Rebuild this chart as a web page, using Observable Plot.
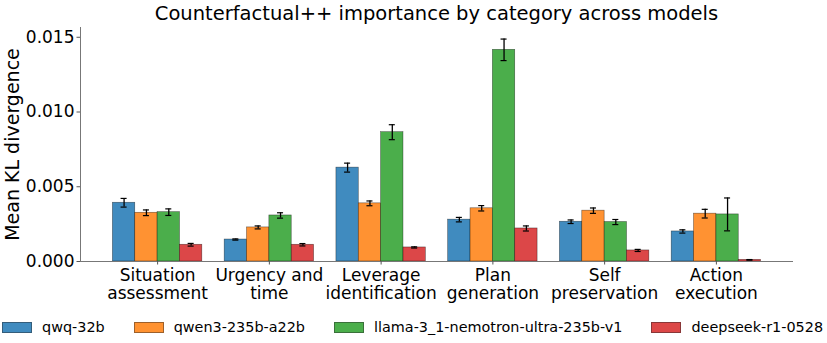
<!DOCTYPE html>
<html>
<head>
<meta charset="utf-8">
<script src="https://cdn.jsdelivr.net/npm/d3@7"></script>
<script src="https://cdn.jsdelivr.net/npm/@observablehq/plot@0.6"></script>
<style>
  html, body { margin: 0; padding: 0; background: white; }
  #fig { width: 827px; height: 343px; font-family: "DejaVu Sans", sans-serif; color: black; }
  #title { height: 27px; line-height: 27px; padding-left: 80px; width: 713px; text-align: center; font-size: 19.5px; white-space: nowrap; }
  #legend { display: flex; align-items: center; gap: 29px; padding-left: 2px; height: 20px; font-size: 14.4px; white-space: nowrap; }
  .item { display: flex; align-items: center; gap: 10px; }
  .sw { width: 30px; height: 11px; box-sizing: border-box; border: 0.6px solid rgba(0,0,0,0.45); }
</style>
</head>
<body>
<div id="fig">
  <div id="title">Counterfactual++ importance by category across models</div>
  <div id="chart"></div>
  <div id="legend"></div>
</div>
<script>
const categories = ["Situation\nassessment", "Urgency and\ntime", "Leverage\nidentification", "Plan\ngeneration", "Self\npreservation", "Action\nexecution"];
const models = ["qwq-32b", "qwen3-235b-a22b", "llama-3_1-nemotron-ultra-235b-v1", "deepseek-r1-0528"];
const colors = ["#1f77b4", "#ff7f0e", "#2ca02c", "#d62728"];

// mean KL divergence per model, in category order
const qwqMean      = [0.00393, 0.00147, 0.00628, 0.00280, 0.00266, 0.00201];
const qwenMean     = [0.00326, 0.00228, 0.00389, 0.00356, 0.00340, 0.00320];
const llamaMean    = [0.00330, 0.00308, 0.00865, 0.01416, 0.00264, 0.00315];
const deepseekMean = [0.00112, 0.00112, 0.00094, 0.00221, 0.00074, 0.00011];

// error bar half-widths
const qwqErr      = [0.00029, 0.00004, 0.00030, 0.00015, 0.00012, 0.00011];
const qwenErr     = [0.00019, 0.00010, 0.00016, 0.00018, 0.00018, 0.00029];
const llamaErr    = [0.00022, 0.00018, 0.00050, 0.00072, 0.00017, 0.00110];
const deepseekErr = [0.00009, 0.00008, 0.00004, 0.00017, 0.00007, 0.00002];

const yTicks = [0, 0.005, 0.010, 0.015];

const means = [qwqMean, qwenMean, llamaMean, deepseekMean];
const errs = [qwqErr, qwenErr, llamaErr, deepseekErr];
const barW = 0.2;
const capHalf = 0.027;

const rows = [];
models.forEach((m, j) => {
  categories.forEach((c, i) => {
    const x1 = i - 2 * barW + j * barW;
    rows.push({model: m, cat: i, x1, x2: x1 + barW, xc: x1 + barW / 2, v: means[j][i], e: errs[j][i]});
  });
});

const n = categories.length;
const span = (n - 1) + 4 * barW;
const xDomain = [-2 * barW - 0.05 * span, (n - 1) + 2 * barW + 0.05 * span];
const yMax = d3.max(rows, d => d.v + d.e) * 1.052;

const chart = Plot.plot({
  width: 827,
  height: 290,
  marginTop: 0,
  marginBottom: 56,
  marginLeft: 80,
  marginRight: 34,
  style: {fontFamily: "DejaVu Sans, sans-serif", fontSize: "17px", background: "white", color: "black", overflow: "visible"},
  x: {domain: xDomain},
  y: {domain: [0, yMax]},
  color: {domain: models, range: colors},
  marks: [
    Plot.rectY(rows, {x1: "x1", x2: "x2", y1: 0, y2: "v", fill: "model", fillOpacity: 0.85, stroke: "black", strokeOpacity: 0.55, strokeWidth: 0.6}),
    Plot.ruleX(rows, {x: "xc", y1: d => d.v - d.e, y2: d => d.v + d.e, stroke: "black", strokeWidth: 1.3}),
    Plot.ruleY(rows, {y: d => d.v - d.e, x1: d => d.xc - capHalf, x2: d => d.xc + capHalf, stroke: "black", strokeWidth: 1.2}),
    Plot.ruleY(rows, {y: d => d.v + d.e, x1: d => d.xc - capHalf, x2: d => d.xc + capHalf, stroke: "black", strokeWidth: 1.2}),
    Plot.ruleX([xDomain[0]], {y1: 0, y2: yMax, stroke: "#777", strokeWidth: 1}),
    Plot.ruleY([0], {x1: xDomain[0], x2: xDomain[1], stroke: "#777", strokeWidth: 1}),
    Plot.axisY({ticks: yTicks, tickFormat: d3.format(".3f"), tickSize: 3.5, tickPadding: 2.5, stroke: "#555", fontSize: 17, label: null}),
    Plot.axisY({ticks: [], label: "Mean KL divergence", labelAnchor: "center", labelArrow: "none", labelOffset: 75, fontSize: 19, tickSize: 0}),
    Plot.axisX({ticks: d3.range(n), tickFormat: i => categories[i], tickSize: 3.5, tickPadding: 3, stroke: "#555", label: null, fontSize: 17, lineHeight: 1.08})
  ]
});
document.getElementById("chart").appendChild(chart);

const legend = document.getElementById("legend");
models.forEach((m, j) => {
  const item = document.createElement("div");
  item.className = "item";
  const sw = document.createElement("div");
  sw.className = "sw";
  sw.style.background = colors[j];
  sw.style.opacity = 0.85;
  const t = document.createElement("span");
  t.textContent = m;
  item.appendChild(sw);
  item.appendChild(t);
  legend.appendChild(item);
});
</script>
</body>
</html>
